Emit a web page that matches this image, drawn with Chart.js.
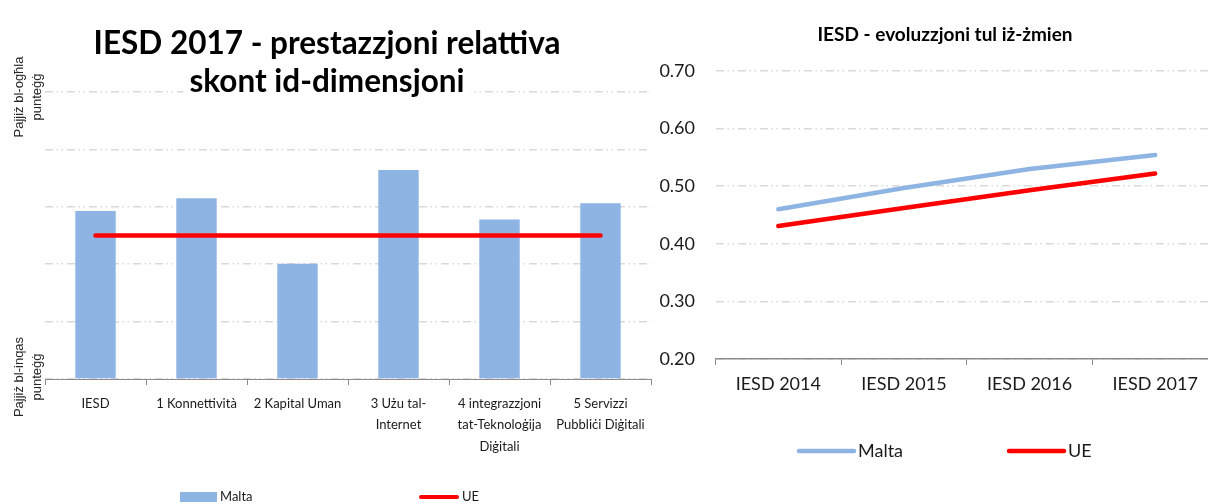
<!DOCTYPE html>
<html><head><meta charset="utf-8">
<script src="https://cdn.jsdelivr.net/npm/chart.js@4.4.1/dist/chart.umd.min.js"></script>
<style>
html,body{margin:0;padding:0;background:#fff;overflow:hidden;width:1208px;height:504px;position:relative}
#c1{position:absolute;left:0;top:0}
#c2{position:absolute;left:655px;top:0}
</style></head><body>
<canvas id="c1" width="655" height="504"></canvas>
<canvas id="c2" width="563" height="504"></canvas>
<script>
// ---- data ----
const dimCategories = [['IESD'], ['1 Konnettività'], ['2 Kapital Uman'], ['3 Użu tal-', 'Internet'], ['4 integrazzjoni', 'tat-Teknoloġija', 'Diġitali'], ['5 Servizzi', 'Pubbliċi Diġitali']];
const maltaDim = [0.585, 0.630, 0.402, 0.728, 0.556, 0.612];
const ueDim = [0.5, 0.5, 0.5, 0.5, 0.5, 0.5];
const years = ['IESD 2014', 'IESD 2015', 'IESD 2016', 'IESD 2017'];
const maltaTrend = [0.460, 0.497, 0.530, 0.554];
const ueTrend = [0.431, 0.462, 0.493, 0.522];
const seriesNames = ['Malta', 'UE'];
const leftTitle = ['IESD 2017 - prestazzjoni relattiva', 'skont id-dimensjoni'];
const rightTitle = 'IESD - evoluzzjoni tul iż-żmien';
const topLabel = ['Pajjiż bl-ogħla', 'punteġġ'];
const bottomLabel = ['Pajjiż bl-inqas', 'punteġġ'];

const FONT = 'Lato, "Open Sans", sans-serif';
const BLUE = '#8EB4E3';
const RED = '#FF0000';
const GRID = '#d9d9d9';
const AXIS = '#8c8c8c';
const DASH = [8, 3.5, 1.5, 3.5, 1.5, 4];

function rotText(ctx, lines, cx, cy, font) {
  ctx.save();
  ctx.font = font;
  ctx.fillStyle = '#262626';
  ctx.textAlign = 'center';
  ctx.textBaseline = 'middle';
  lines.forEach((l, i) => {
    ctx.save();
    ctx.translate(cx[i], cy);
    ctx.rotate(-Math.PI / 2);
    ctx.fillText(l, 0, 0);
    ctx.restore();
  });
  ctx.restore();
}

const leftDecor = {
  id: 'leftDecor',
  afterDraw(chart) {
    const ctx = chart.ctx;
    ctx.save();
    ctx.font = 'bold 31.5px ' + FONT;
    ctx.textAlign = 'center';
    ctx.textBaseline = 'middle';
    const ys = [44, 82];
    leftTitle.forEach((t, i) => {
      const w = ctx.measureText(t).width;
      ctx.fillStyle = '#fff';
      ctx.fillRect(327 - w / 2 - 6, ys[i] - 19, w + 12, 38);
    });
    ctx.fillStyle = '#000';
    leftTitle.forEach((t, i) => ctx.fillText(t, 327, ys[i]));
    ctx.restore();
    rotText(ctx, topLabel, [19, 37], 97, '13px "Liberation Sans", Arial, sans-serif');
    rotText(ctx, bottomLabel, [19, 37], 377, '13px "Liberation Sans", Arial, sans-serif');
    ctx.save();
    ctx.fillStyle = chart.data.datasets[0].backgroundColor;
    ctx.fillRect(180, 492, 37, 10);
    ctx.strokeStyle = chart.data.datasets[1].borderColor;
    ctx.lineWidth = 4;
    ctx.lineCap = 'round';
    ctx.beginPath(); ctx.moveTo(421, 497); ctx.lineTo(457, 497); ctx.stroke();
    ctx.fillStyle = '#1a1a1a';
    ctx.font = '13px ' + FONT;
    ctx.textBaseline = 'middle';
    ctx.textAlign = 'left';
    ctx.fillText(chart.data.datasets[0].label, 220, 497);
    ctx.fillText(chart.data.datasets[1].label, 462, 497);
    ctx.restore();
  }
};

new Chart(document.getElementById('c1'), {
  type: 'bar',
  data: {
    labels: dimCategories,
    datasets: [
      { type: 'bar', label: seriesNames[0], data: maltaDim, backgroundColor: BLUE, barPercentage: 0.4, categoryPercentage: 1, order: 2 },
      { type: 'line', label: seriesNames[1], data: ueDim, borderColor: RED, borderWidth: 4.5, pointRadius: 0, borderCapStyle: 'round', fill: false, order: 1 }
    ]
  },
  options: {
    responsive: false,
    animation: false,
    layout: { padding: { top: 92, right: 4, left: 0, bottom: 0 } },
    plugins: { legend: { display: false }, tooltip: { enabled: false }, title: { display: false } },
    scales: {
      x: {
        offset: true,
        grid: { display: true, drawOnChartArea: false, offset: true, tickLength: 6, color: AXIS, tickColor: AXIS },
        border: { display: true, color: AXIS, width: 1 },
        ticks: { font: { family: FONT, size: 13, lineHeight: 1.65 }, color: '#1a1a1a', padding: 8, maxRotation: 0, autoSkip: false },
        afterFit(s) { s.height = 125; }
      },
      y: {
        min: 0, max: 1,
        ticks: { display: false, stepSize: 0.2 },
        grid: { color: GRID, lineWidth: 1.5, drawTicks: false },
        border: { display: false, dash: DASH },
        afterFit(s) { s.width = 45; }
      }
    }
  },
  plugins: [leftDecor]
});

const rightDecor = {
  id: 'rightDecor',
  afterDraw(chart) {
    const ctx = chart.ctx;
    ctx.save();
    ctx.font = 'bold 19px ' + FONT;
    ctx.fillStyle = '#000';
    ctx.textAlign = 'center';
    ctx.textBaseline = 'middle';
    ctx.fillText(rightTitle, 290, 35);
    const items = [[144, 199, 203], [354, 409, 413]];
    ctx.lineCap = 'round';
    ctx.lineWidth = 4.5;
    ctx.font = '18px ' + FONT;
    ctx.textAlign = 'left';
    chart.data.datasets.forEach((ds, i) => {
      const it = items[i];
      ctx.strokeStyle = ds.borderColor;
      ctx.beginPath(); ctx.moveTo(it[0], 451); ctx.lineTo(it[1], 451); ctx.stroke();
      ctx.fillStyle = '#1a1a1a';
      ctx.fillText(ds.label, it[2], 451);
    });
    ctx.restore();
  }
};

new Chart(document.getElementById('c2'), {
  type: 'line',
  data: {
    labels: years,
    datasets: [
      { label: seriesNames[0], data: maltaTrend, borderColor: BLUE, borderWidth: 4.5, pointRadius: 0, borderCapStyle: 'round', tension: 0, fill: false },
      { label: seriesNames[1], data: ueTrend, borderColor: RED, borderWidth: 4.5, pointRadius: 0, borderCapStyle: 'round', tension: 0, fill: false }
    ]
  },
  options: {
    responsive: false,
    animation: false,
    layout: { padding: { top: 71, right: 0, left: 0, bottom: 0 } },
    plugins: { legend: { display: false }, tooltip: { enabled: false }, title: { display: false } },
    scales: {
      x: {
        offset: true,
        grid: { display: true, drawOnChartArea: false, offset: true, tickLength: 6, color: AXIS, tickColor: AXIS },
        border: { display: true, color: AXIS, width: 1.5 },
        ticks: { font: { family: FONT, size: 18, lineHeight: 1.2 }, color: '#1a1a1a', padding: 8, maxRotation: 0, autoSkip: false },
        afterFit(s) { s.height = 145; }
      },
      y: {
        min: 0.2, max: 0.7,
        ticks: { stepSize: 0.1, padding: 20.5, font: { family: FONT, size: 18 }, color: '#1a1a1a', callback: v => Number(v).toFixed(2) },
        grid: { color: GRID, lineWidth: 1.5, drawTicks: false },
        border: { display: false, dash: DASH },
        afterFit(s) { s.width = 60.5; }
      }
    }
  },
  plugins: [rightDecor]
});
</script></body></html>
